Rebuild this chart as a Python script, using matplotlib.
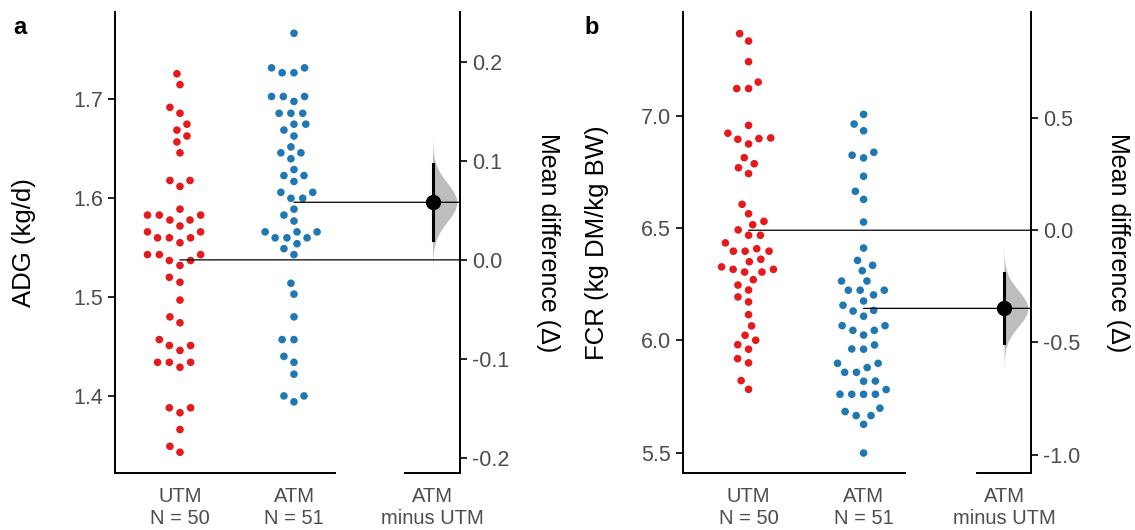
import numpy as np
import pandas as pd
import seaborn as sns
import matplotlib.pyplot as plt
from matplotlib.patches import ConnectionPatch

plt.rcParams['font.family'] = ['Liberation Sans', 'DejaVu Sans']
plt.rcParams['axes.unicode_minus'] = False

groups = ["UTM", "ATM"]
colors = {"UTM": "#e41a1c", "ATM": "#1f78b4"}

# panel a: average daily gain
adg_utm = [1.726, 1.715, 1.692, 1.686, 1.675, 1.669, 1.663, 1.657, 1.646, 1.618,
           1.618, 1.612, 1.589, 1.583, 1.583, 1.583, 1.578, 1.578, 1.572, 1.566,
           1.566, 1.560, 1.560, 1.560, 1.555, 1.543, 1.543, 1.543, 1.537, 1.537,
           1.532, 1.520, 1.515, 1.497, 1.480, 1.474, 1.457, 1.451, 1.451, 1.446,
           1.434, 1.434, 1.434, 1.429, 1.388, 1.388, 1.383, 1.366, 1.349, 1.343]
adg_atm = [1.767, 1.732, 1.732, 1.727, 1.727, 1.703, 1.703, 1.703, 1.698, 1.686,
           1.686, 1.686, 1.675, 1.675, 1.669, 1.663, 1.652, 1.646, 1.646, 1.640,
           1.629, 1.623, 1.623, 1.617, 1.606, 1.606, 1.600, 1.600, 1.589, 1.583,
           1.577, 1.566, 1.566, 1.566, 1.560, 1.560, 1.560, 1.554, 1.549, 1.543,
           1.514, 1.503, 1.480, 1.457, 1.457, 1.440, 1.434, 1.422, 1.400, 1.400,
           1.394]

# panel b: feed conversion ratio
fcr_utm = [7.368, 7.335, 7.243, 7.152, 7.123, 7.123, 6.959, 6.924, 6.903, 6.900,
           6.897, 6.876, 6.815, 6.788, 6.770, 6.744, 6.607, 6.565, 6.531, 6.516,
           6.493, 6.469, 6.469, 6.435, 6.409, 6.398, 6.398, 6.398, 6.362, 6.351,
           6.328, 6.317, 6.317, 6.305, 6.305, 6.271, 6.247, 6.225, 6.194, 6.172,
           6.115, 6.065, 6.023, 6.001, 5.981, 5.961, 5.919, 5.900, 5.821, 5.782]
fcr_atm = [7.008, 6.965, 6.935, 6.839, 6.826, 6.814, 6.732, 6.665, 6.629, 6.528,
           6.412, 6.357, 6.335, 6.311, 6.265, 6.265, 6.224, 6.224, 6.224, 6.203,
           6.176, 6.157, 6.134, 6.131, 6.108, 6.066, 6.066, 6.045, 6.045, 6.024,
           5.980, 5.962, 5.961, 5.898, 5.898, 5.879, 5.858, 5.858, 5.819, 5.818,
           5.781, 5.760, 5.760, 5.760, 5.760, 5.698, 5.683, 5.665, 5.665, 5.626,
           5.498]

ylabels = ["ADG (kg/d)", "FCR (kg DM/kg BW)"]
ylims = [(1.322, 1.7885), (5.409, 7.4645)]
yticks = [[1.4, 1.5, 1.6, 1.7], [5.5, 6.0, 6.5, 7.0]]
dticks = [[-0.2, -0.1, 0.0, 0.1, 0.2], [-1.0, -0.5, 0.0, 0.5]]
tags = ["a", "b"]

W, H = 1135, 530
fig = plt.figure(figsize=(W / 100, H / 100), dpi=100)


def box(x0, x1, y0=12, y1=473):
    return [x0 / W, 1 - y1 / H, (x1 - x0) / W, (y1 - y0) / H]


# pixel layout: main axes, difference axes, left label x, right label x, tag x
layout = [((115, 335), (405, 460), 24, 548, 13),
          ((683, 905), (977, 1031), 597, 1118, 584)]
grey = "#4d4d4d"

for i, (utm, atm) in enumerate([(adg_utm, adg_atm), (fcr_utm, fcr_atm)]):
    main_x, diff_x, lab_l, lab_r, tag_x = layout[i]
    ax = fig.add_axes(box(*main_x))
    dax = fig.add_axes(box(*diff_x))

    df = pd.DataFrame({"group": ["UTM"] * len(utm) + ["ATM"] * len(atm),
                       "value": utm + atm})
    # wide white rim keeps the swarm as loose as the original
    sns.swarmplot(data=df, x="group", y="value", hue="group", order=groups,
                  palette=colors, size=6.8, linewidth=1.3, edgecolor="white",
                  legend=False, ax=ax, zorder=3)
    ax.set_xlim(-0.57, 1.36)
    ax.set_ylim(ylims[i])
    ax.set_yticks(yticks[i])
    ax.set_xticks([0, 1])
    ax.set_xticklabels([f"{g}\nN = {n}" for g, n in zip(groups, [len(utm), len(atm)])])
    ax.set_xlabel("")
    ax.set_ylabel(ylabels[i], fontsize=18.5, va="center")
    ax.yaxis.set_label_coords((lab_l - main_x[0]) / (main_x[1] - main_x[0]), 0.5)
    for s in ["top", "right"]:
        ax.spines[s].set_visible(False)

    m_utm, m_atm = np.mean(utm), np.mean(atm)
    d = m_atm - m_utm
    se = np.sqrt(np.var(utm, ddof=1) / len(utm) + np.var(atm, ddof=1) / len(atm))

    dax.set_ylim(ylims[i][0] - m_utm, ylims[i][1] - m_utm)
    dax.set_xlim(0, 1)
    grid = np.linspace(d - 3.4 * se, d + 3.4 * se, 300)
    dens = np.exp(-0.5 * ((grid - d) / se) ** 2)
    dax.fill_betweenx(grid, 0.5, 0.5 + 0.44 * dens, color="#bdbdbd", lw=0)
    dax.plot([0.5, 0.5], [d - 1.96 * se, d + 1.96 * se], color="black", lw=2.2)
    dax.plot(0.5, d, "o", color="black", ms=10, zorder=4)
    dax.yaxis.tick_right()
    dax.yaxis.set_label_position("right")
    dax.set_yticks(dticks[i])
    dax.set_xticks([0.5])
    dax.set_xticklabels(["ATM\nminus UTM"])
    dax.set_ylabel("Mean difference (\u0394)", fontsize=18, rotation=270, va="center")
    dax.yaxis.set_label_coords((lab_r - diff_x[0]) / (diff_x[1] - diff_x[0]), 0.5)
    for s in ["top", "left"]:
        dax.spines[s].set_visible(False)

    for a in (ax, dax):
        for s in a.spines.values():
            s.set_linewidth(1.4)
        a.tick_params(axis="y", labelsize=15.5, labelcolor=grey, length=5, width=1.2)
        a.tick_params(axis="x", labelsize=14.5, labelcolor=grey, length=0, pad=10)
        a.patch.set_alpha(0)

    # mean lines running into the difference axis
    for xg, m in [(0, m_utm), (1, m_atm)]:
        con = ConnectionPatch(xyA=(xg, m), coordsA=ax.transData,
                              xyB=(1, m - m_utm), coordsB=dax.get_yaxis_transform(),
                              color="black", lw=0.9, zorder=2)
        fig.add_artist(con)

    fig.text(tag_x / W, 1 - 28 / H, tags[i], fontsize=17, fontweight="bold", va="center")

fig.savefig("out.png", dpi=100)
